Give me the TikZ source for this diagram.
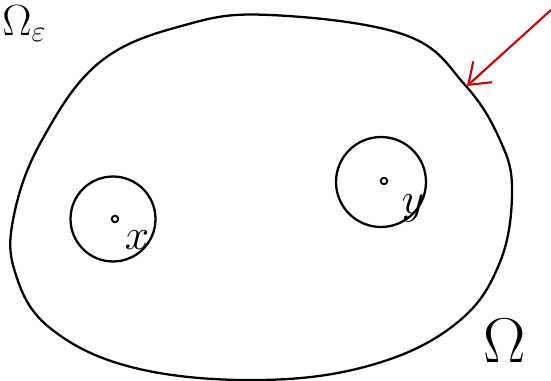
\documentclass[tikz,border=0pt]{standalone}
\usetikzlibrary{positioning, arrows.meta, calc}

\begin{document}
\begin{tikzpicture}[
    x=0.02cm, y=-0.02cm,
    % ── styles ─────────────────────────────────────────
    ink/.style = {draw, line width=1.3pt, line cap=round, line join=round},
    ball/.style = {ink, circle, minimum size=1.6cm, inner sep=0pt},
    pt/.style = {ink, circle, minimum size=0.13cm, inner sep=0pt, line width=1.1pt},
    lbl/.style = {font=\fontsize{24}{28}\selectfont, inner sep=0pt},
    big/.style = {lbl, scale=1.45},
    hint/.style = {draw=red!80!black, line width=1.2pt, line cap=round,
            -{Straight Barb[length=11pt, width=16pt, line width=1.2pt]}},
    ]
    \useasboundingbox (0,0) rectangle (551,381);
    \clip (0,0) rectangle (551,381);

    % ============================================================
    % DOMAIN
    % ============================================================
    \draw[ink] plot[smooth cycle, tension=0.65] coordinates {
            (270,15) (405,35) (465,85) (500,140) (512,190) (500,262)
            (458,322) (375,364) (262,380) (135,368) (50,328) (15,272)
            (14,215) (42,140) (100,62) (185,25)};
    \coordinate (tip) at (467,86);
    \coordinate (tail) at (551,10);

    % ============================================================
    % BALLS
    % ============================================================
    \node[ball, minimum width=1.7cm, minimum height=1.55cm] (ballx) at (113,219) {};
    \node[pt] (x) at (115,219) {};
    \node[lbl] (xlbl) at (137,240) {$x$};

    \node[ball, minimum width=1.75cm, minimum height=1.8cm] (bally) at (381,182) {};
    \node[pt] (y) at (384,181) {};
    \node[lbl] (ylbl) at (413,208) {$y$};

    % ============================================================
    % LABELS
    % ============================================================
    \node[big] (omega) at (505,341) {$\Omega$};
    \node[lbl, anchor=north west] (omegaeps) at (2,5) {$\Omega_\varepsilon$};

    % pointer to the boundary
    \draw[hint] (tail) -- (tip);

\end{tikzpicture}
\end{document}
